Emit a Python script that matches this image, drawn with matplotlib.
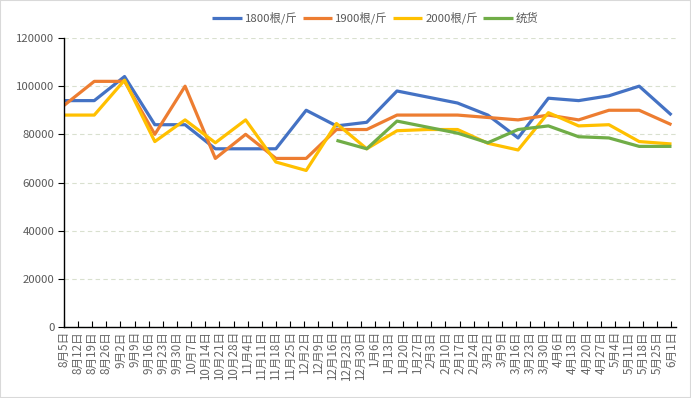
import matplotlib
matplotlib.use("Agg")
import matplotlib.pyplot as plt
import pandas as pd
from matplotlib.patches import Rectangle

plt.rcParams['font.family'] = ['Noto Sans CJK SC', 'DejaVu Sans']

tick_labels = ["8月5日", "8月12日", "8月19日", "8月26日", "9月2日", "9月9日", "9月16日", "9月23日",
               "9月30日", "10月7日", "10月14日", "10月21日", "10月28日", "11月4日", "11月11日",
               "11月18日", "11月25日", "12月2日", "12月9日", "12月16日", "12月23日", "12月30日",
               "1月6日", "1月13日", "1月20日", "1月27日", "2月3日", "2月10日", "2月17日", "2月24日",
               "3月2日", "3月9日", "3月16日", "3月23日", "3月30日", "4月6日", "4月13日", "4月20日",
               "4月27日", "5月4日", "5月11日", "5月18日", "5月25日", "6月1日"]

dates = ["2023-08-05", "2023-08-20", "2023-09-04", "2023-09-19", "2023-10-04", "2023-10-19",
         "2023-11-03", "2023-11-18", "2023-12-03", "2023-12-18", "2024-01-02", "2024-01-17",
         "2024-02-01", "2024-02-16", "2024-03-02", "2024-03-17", "2024-04-01", "2024-04-16",
         "2024-05-01", "2024-05-16", "2024-06-01"]

s1800 = [94000, 94000, 104000, 84000, 84000, 74000, 74000, 74000, 90000, 83500, 85000,
         98000, 95500, 93000, 88000, 78500, 95000, 94000, 96000, 100000, 88000]
s1900 = [92000, 102000, 102000, 80000, 100000, 70000, 80000, 70000, 70000, 82000, 82000,
         88000, 88000, 88000, 87000, 86000, 88000, 86000, 90000, 90000, 84000]
s2000 = [88000, 88000, 102500, 77000, 86000, 76500, 86000, 68500, 65000, 84500, 74000,
         81500, 82000, 82000, 76300, 73500, 89000, 83500, 84000, 77000, 76000]
s_tong = [None, None, None, None, None, None, None, None, None, 77500, 74000,
          85500, 83000, 80500, 76500, 82000, 83500, 79000, 78500, 75000, 75000]

series_names = ["1800根/斤", "1900根/斤", "2000根/斤", "统货"]
colors = ["#4472C4", "#ED7D31", "#FFC000", "#70AD47"]

x = pd.to_datetime(dates)
tick_pos = pd.date_range("2023-08-05", periods=len(tick_labels), freq="7D")

fig = plt.figure(figsize=(6.91, 3.98), dpi=100)
fig.patches.append(Rectangle((0, 0), 1, 1, transform=fig.transFigure, fill=False,
                             edgecolor="#d9d9d9", linewidth=1.5))
ax = fig.add_axes([0.0926, 0.1784, 0.885, 0.7261])

for name, vals, c in zip(series_names, [s1800, s1900, s2000, s_tong], colors):
    xs = [d for d, v in zip(x, vals) if v is not None]
    ys = [v for v in vals if v is not None]
    ax.plot(xs, ys, color=c, linewidth=2.3, label=name, solid_joinstyle="round",
            solid_capstyle="butt")

ax.set_xlim(tick_pos[0], tick_pos[-1] + pd.Timedelta(days=2))
ax.set_ylim(0, 120000)
ax.set_yticks(range(0, 120001, 20000))
ax.yaxis.grid(True, color="#d9e0cf", linestyle=(0, (4, 3)), linewidth=0.8)
ax.set_axisbelow(True)

ax.set_xticks(tick_pos)
ax.set_xticklabels(tick_labels, rotation=90, fontsize=8.4, color="#666666")
ax.tick_params(axis="x", direction="in", length=4, width=0.8, color="black", pad=3)
ax.tick_params(axis="y", direction="out", length=4, width=0.8, color="black",
               labelsize=8.2, labelcolor="#595959", pad=3)

for sp in ["top", "right"]:
    ax.spines[sp].set_visible(False)
for sp in ["left", "bottom"]:
    ax.spines[sp].set_color("black")
    ax.spines[sp].set_linewidth(1.0)

leg = fig.legend(loc="center", bbox_to_anchor=(0.543, 0.955), ncol=4, frameon=False,
                 fontsize=8.2, handlelength=2.6, columnspacing=0.45, handletextpad=0.25,
                 labelcolor="#595959")

fig.savefig("out.png", dpi=100)
